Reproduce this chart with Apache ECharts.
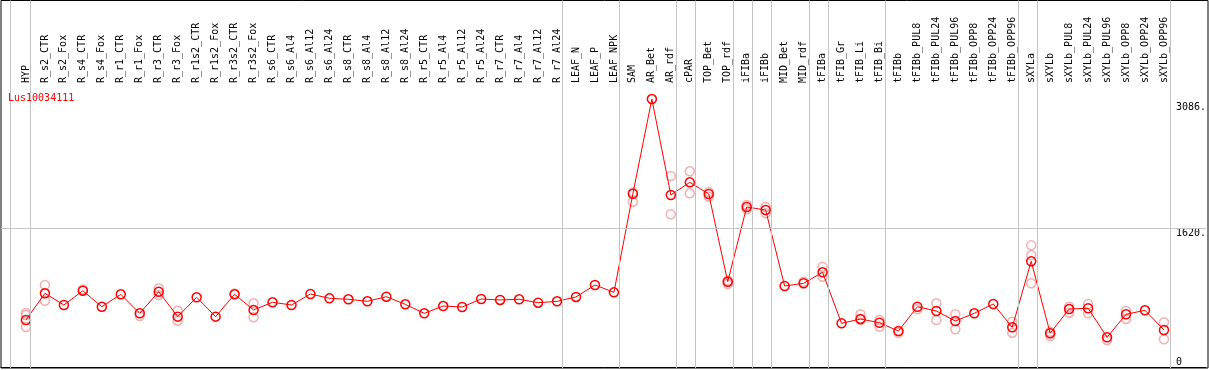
<!DOCTYPE html>
<html>
<head>
<meta charset="utf-8">
<script src="https://cdn.jsdelivr.net/npm/echarts@6/dist/echarts.min.js"></script>
<style>
  html, body { margin: 0; padding: 0; background: #fff; }
  #chart { width: 1209px; height: 370px; }
</style>
</head>
<body>
<div id="chart"></div>
<script>
const geneName = 'Lus10034111';

const categories = [
  'HYP', 'R_s2_CTR', 'R_s2_Fox', 'R_s4_CTR', 'R_s4_Fox', 'R_r1_CTR', 'R_r1_Fox',
  'R_r3_CTR', 'R_r3_Fox', 'R_r1s2_CTR', 'R_r1s2_Fox', 'R_r3s2_CTR', 'R_r3s2_Fox',
  'R_s6_CTR', 'R_s6_Al4', 'R_s6_Al12', 'R_s6_Al24', 'R_s8_CTR', 'R_s8_Al4', 'R_s8_Al12',
  'R_s8_Al24', 'R_r5_CTR', 'R_r5_Al4', 'R_r5_Al12', 'R_r5_Al24', 'R_r7_CTR', 'R_r7_Al4',
  'R_r7_Al12', 'R_r7_Al24', 'LEAF_N', 'LEAF_P', 'LEAF_NPK', 'SAM', 'AR_Bet', 'AR_rdf',
  'cPAR', 'TOP_Bet', 'TOP_rdf', 'iFIBa', 'iFIBb', 'MID_Bet', 'MID_rdf', 'tFIBa',
  'tFIB_Gr', 'tFIB_Li', 'tFIB_Bi', 'tFIBb', 'tFIBb_PUL8', 'tFIBb_PUL24', 'tFIBb_PUL96',
  'tFIBb_OPP8', 'tFIBb_OPP24', 'tFIBb_OPP96', 'sXYLa', 'sXYLb', 'sXYLb_PUL8',
  'sXYLb_PUL24', 'sXYLb_PUL96', 'sXYLb_OPP8', 'sXYLb_OPP24', 'sXYLb_OPP96'
];

const meanValues = [
  549, 861, 724, 891, 704, 849, 627,
  880, 588, 814, 588, 849, 666,
  756, 724, 853, 802, 791, 767, 821,
  732, 627, 712, 701, 794, 783, 791,
  751, 767, 818, 958, 872, 2024, 3130, 2009,
  2157, 2021, 996, 1869, 1834, 946, 978, 1106,
  510, 561, 517, 420, 704, 654, 537,
  627, 736, 464, 1235, 394, 677,
  686, 347, 616, 662, 432
];

const replicateValues = [
  [631, 607, 467], [958, 774], [], [905], [], [], [596],
  [919, 841], [658, 541], [], [], [860], [744, 580],
  [], [], [], [], [], [], [],
  [], [], [], [], [], [], [],
  [], [], [], [], [], [2040, 1931], [], [2231, 1784],
  [2286, 2029], [2044, 1989], [969, 1010], [1892, 1842], [1869, 1795], [], [996], [1171, 1055],
  [], [616, 549], [549, 471], [401], [674], [744, 549], [616, 440],
  [], [], [529, 401], [1421, 1305, 978], [412, 362], [704, 634],
  [736, 627], [315], [654, 561], [], [522, 324]
];

// last category index of each sample group (a separator follows each)
const groupEnds = [0, 28, 31, 34, 35, 37, 38, 39, 41, 42, 45, 52, 53, 60];

const yTickValues = [0, 1620, 3086];
const yTickLabels = ['0', '1620.', '3086.'];
const refLineValue = 1620;

const FONT = 'DejaVu Sans Mono';
const X_MIN = (1 - 26) / 19;
const X_MAX = (1208 - 26) / 19;
const Y_MAX = 3294;

const separators = [-0.842].concat(groupEnds.map(e => e + 0.22));
const meanData = meanValues.map((v, i) => [i, v]);
const repData = [];
replicateValues.forEach((arr, i) => arr.forEach(v => repData.push([i, v])));

const labelFor = v => yTickLabels[yTickValues.indexOf(v)];

const chart = echarts.init(document.getElementById('chart'), null, { renderer: 'canvas' });
chart.setOption({
  animation: false,
  backgroundColor: '#fff',
  title: {
    text: geneName, left: 8, top: 93, padding: 0,
    textStyle: { color: '#ff0000', fontSize: 10, fontWeight: 'normal', fontFamily: FONT }
  },
  grid: [
    { left: 1, right: 1, top: 0.5, bottom: 2, show: true, borderColor: '#000', borderWidth: 1, backgroundColor: 'transparent' },
    { left: 1, right: 1, top: 85, bottom: 3 }
  ],
  xAxis: [
    { gridIndex: 0, type: 'value', min: X_MIN, max: X_MAX, show: false },
    {
      gridIndex: 1, type: 'value', min: X_MIN, max: X_MAX, position: 'top',
      axisLine: { show: true, lineStyle: { color: '#000', width: 1 } },
      axisTick: { show: false }, splitLine: { show: false },
      axisLabel: {
        customValues: categories.map((c, i) => i),
        formatter: v => categories[Math.round(v)],
        rotate: 90, margin: 2, fontFamily: FONT, fontSize: 10, color: '#000'
      }
    }
  ],
  yAxis: [
    { gridIndex: 0, type: 'value', min: 0, max: 1, show: false },
    {
      gridIndex: 1, type: 'value', min: 0, max: Y_MAX, position: 'right', offset: -38,
      axisLine: { show: false }, axisTick: { show: false }, splitLine: { show: false },
      axisLabel: {
        customValues: yTickValues.filter(v => v > 0),
        formatter: labelFor, verticalAlign: 'top', margin: 8,
        fontFamily: FONT, fontSize: 10, color: '#000'
      }
    },
    {
      gridIndex: 1, type: 'value', min: 0, max: Y_MAX, position: 'right', offset: -38,
      axisLine: { show: false }, axisTick: { show: false }, splitLine: { show: false },
      axisLabel: {
        customValues: yTickValues.filter(v => v === 0),
        formatter: labelFor, verticalAlign: 'bottom', margin: 8,
        fontFamily: FONT, fontSize: 10, color: '#000'
      }
    }
  ],
  series: [
    {
      type: 'line', xAxisIndex: 0, yAxisIndex: 0, data: [], z: 1, silent: true,
      markLine: {
        silent: true, symbol: ['none', 'none'], label: { show: false },
        lineStyle: { color: '#c4c4c4', type: 'solid', width: 1 },
        data: separators.map(x => ({ xAxis: x }))
      }
    },
    {
      type: 'scatter', xAxisIndex: 1, yAxisIndex: 1, data: repData, z: 2,
      symbol: 'circle', symbolSize: 9,
      itemStyle: { color: 'rgba(0,0,0,0)', borderColor: '#f09c9c', borderWidth: 1.5 }
    },
    {
      type: 'line', xAxisIndex: 1, yAxisIndex: 1, data: meanData, z: 3,
      symbol: 'circle', symbolSize: 9, showAllSymbol: true,
      lineStyle: { color: '#ff0000', width: 1 },
      itemStyle: { color: 'rgba(0,0,0,0)', borderColor: '#ff0000', borderWidth: 1.5 },
      markLine: {
        silent: true, symbol: ['none', 'none'], label: { show: false },
        lineStyle: { color: '#c4c4c4', type: 'solid', width: 1 },
        data: [{ yAxis: refLineValue }]
      }
    }
  ]
});
</script>
</body>
</html>
